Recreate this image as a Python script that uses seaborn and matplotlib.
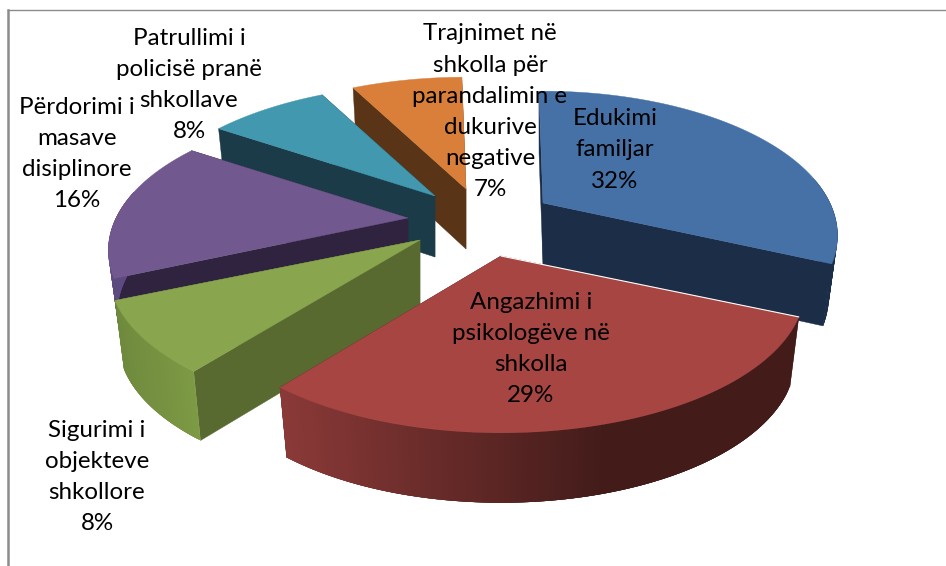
import numpy as np
import matplotlib
matplotlib.use("Agg")
import matplotlib.pyplot as plt
import seaborn as sns

# chart data, clockwise from 12 o'clock
labels = [
    "Edukimi\nfamiljar\n32%",
    "Angazhimi i\npsikologëve në\nshkolla\n29%",
    "Sigurimi i\nobjekteve\nshkollore\n8%",
    "Përdorimi i\nmasave\ndisiplinore\n16%",
    "Patrullimi i\npolicisë pranë\nshkollave\n8%",
    "Trajnimet në\nshkolla për\nparandalimin e\ndukurive\nnegative\n7%",
]
values = [31.9, 28.9, 7.9, 15.9, 8.0, 7.4]

# colours
top_colors = ["#4571a7", "#a74543", "#89a54e", "#71588f", "#4198af", "#d97f3a"]
cut_colors = ["#1c2e47", "#421c1a", "#586a30", "#30233f", "#1a3b47", "#5a3416"]
wall_left = ["#1c2e47", "#8a3937", "#6f8a3d", "#5d4a80", "#1a3b47", "#5a3416"]
wall_right = ["#1c2e47", "#431c1a", "#7d9a45", "#5d4a80", "#1a3b47", "#5a3416"]

# layout in pixels
center = (470, 225)
explode = [(73, -22), (31, 31), (-50, 15), (-62, -7), (-35, -29), (-4, -36)]
radius = [287, 296, 303, 292, 292, 292]
depth = [62, 70, 69, 63, 61, 60]
squash = 137.0
persp = 0.225
shrink = 0.97
start_angle = -1.0
label_pos = [(615, 150), (531, 349), (97, 477), (77, 154), (189, 85), (490, 112)]
draw_order = [5, 4, 3, 2, 0, 1]

sns.set_theme(style="white")
plt.rcParams["font.family"] = ["Lato", "DejaVu Sans"]

fig = plt.figure(figsize=(9.46, 5.66), dpi=100)
ax = fig.add_axes([8 / 946, 0, 938 / 946, 556 / 566])
ax.set_xlim(8, 946)
ax.set_ylim(566, 10)
ax.set_xticks([])
ax.set_yticks([])
sns.despine(ax=ax, top=False, left=False, right=True, bottom=True)
ax.spines["left"].set_color("#8c8c8c")
ax.spines["left"].set_linewidth(1.8)
ax.spines["top"].set_color("#8c8c8c")
ax.spines["top"].set_linewidth(1.0)


def rim(angles, r):
    a = np.radians(angles)
    s = 1 / (1 + persp * np.cos(a))
    return r * np.sin(a) * s, -squash * np.cos(a) * s


edges = start_angle + np.concatenate([[0], np.cumsum(values)]) / sum(values) * 360

for z, i in enumerate(draw_order):
    x0 = center[0] + explode[i][0]
    y0 = center[1] + explode[i][1]
    angles = np.linspace(edges[i], edges[i + 1], 120)
    dx, dy = rim(angles, radius[i])
    xs = x0 + dx
    ys = y0 + dy
    xb = x0 + dx * shrink
    yb = ys + depth[i]

    # straight cut walls
    for k in [0, -1]:
        ax.fill([x0, xs[k], xb[k], x0], [y0, ys[k], yb[k], y0 + depth[i]],
                color=cut_colors[i], lw=0.3, zorder=1 + z)

    # outer wall, overlapping strips so it can shade from left to right
    front = np.where(np.cos(np.radians(angles)) < 0.2)[0]
    if len(front) > 1:
        shades = sns.blend_palette([wall_left[i], wall_right[i]], 60)
        lo, hi = xs[front].min(), xs[front].max()
        for a in front[:-1]:
            b = min(a + 4, front[-1])
            t = (xs[a] - lo) / (hi - lo)
            if i == 1:
                t = min(t * 1.6, 1)
            ax.fill([xs[a], xs[b], xb[b], xb[a]], [ys[a], ys[b], yb[b], yb[a]],
                    color=shades[int(t * 59)], lw=0, zorder=1 + z)

    # top surface
    ax.fill(np.r_[x0, xs], np.r_[y0, ys], color=top_colors[i], lw=0.3, zorder=1.5 + z)
    if i == 1:
        ax.plot([x0, xs[0]], [y0, ys[0]], color="white", lw=0.8, zorder=1.6 + z)

for text, (tx, ty) in zip(labels, label_pos):
    ax.text(tx, ty, text, ha="center", va="center", fontsize=17.4, color="black",
            linespacing=1.6, zorder=20)

fig.savefig("out.png", dpi=100, facecolor="white")
